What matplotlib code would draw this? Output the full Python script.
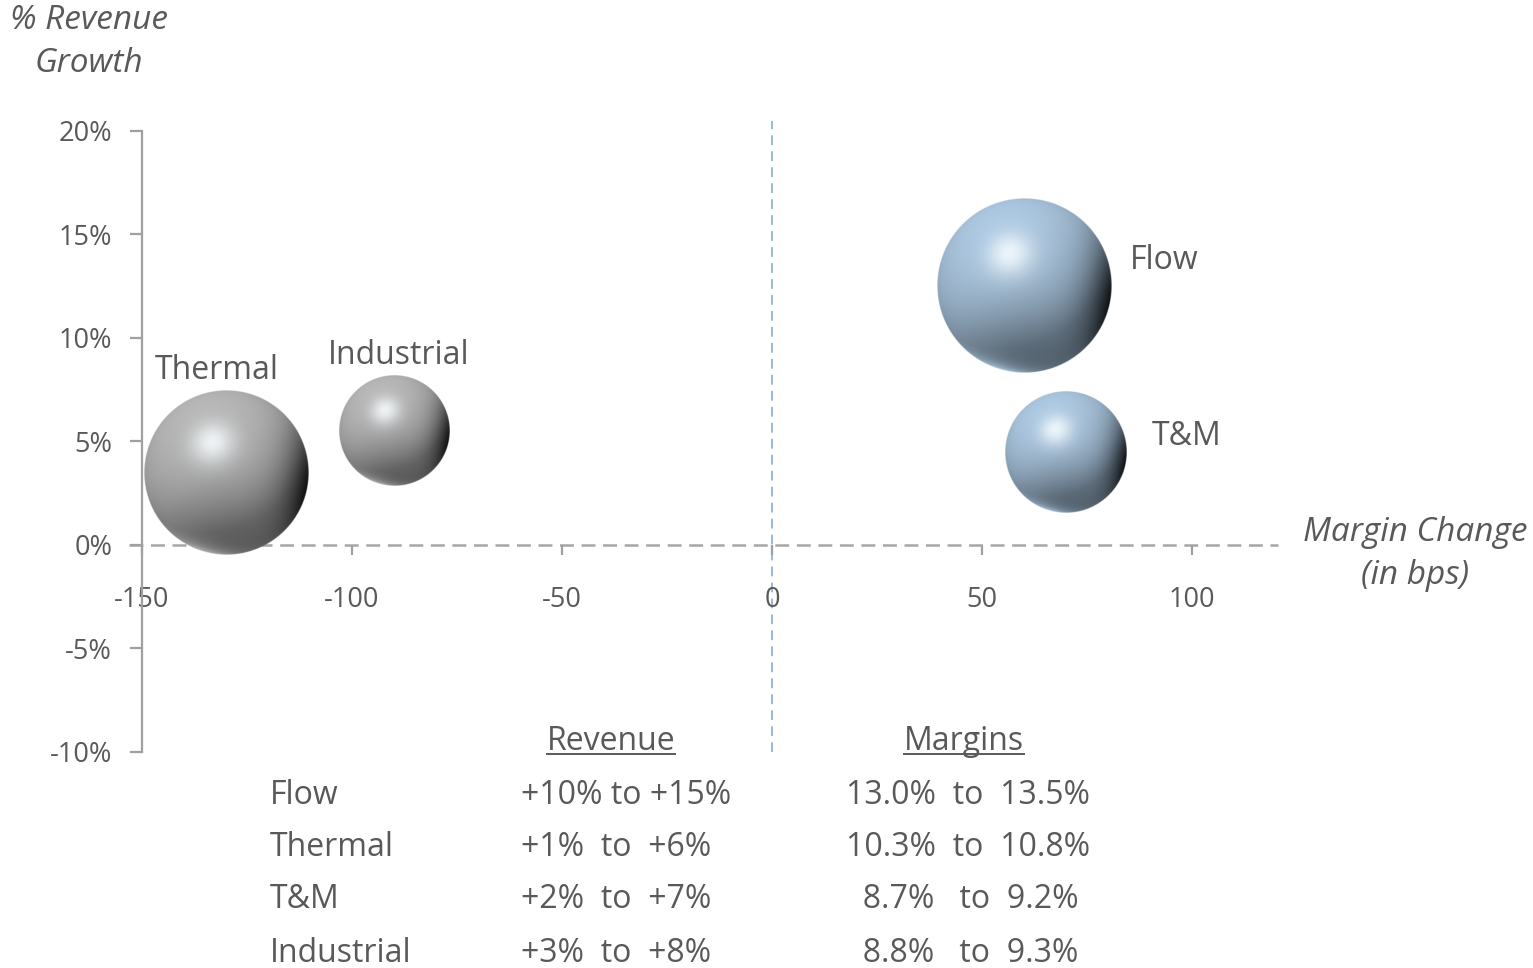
import numpy as np
import matplotlib
matplotlib.use("Agg")
import matplotlib.pyplot as plt
from matplotlib.lines import Line2D

plt.rcParams['font.family'] = ['Open Sans', 'DejaVu Sans']
plt.rcParams['lines.scale_dashes'] = False

# ---- data ----
segments = ["Flow", "Thermal", "T&M", "Industrial"]
margin_change_bps = [60, -130, 70, -90]
revenue_growth_pct = [12.5, 3.5, 4.5, 5.5]
bubble_size = [1.00, 0.89, 0.49, 0.40]
bubble_family = ["blue", "gray", "blue", "gray"]

x_ticks = [-150, -100, -50, 0, 50, 100]
y_ticks = [-10, -5, 0, 5, 10, 15, 20]
y_tick_labels = [f"{t}%" for t in y_ticks]

table_revenue = ["+10% to +15%", "+1%  to  +6%", "+2%  to  +7%", "+3%  to  +8%"]
table_margins = ["13.0%  to  13.5%", "10.3%  to  10.8%", "  8.7%   to  9.2%", "  8.8%   to  9.3%"]

# ---- style ----
W, H, DPI = 1533, 968, 100
TXT = "#595959"
AXC = "#a0a0a0"
BASES = {"gray": np.array([0.66, 0.66, 0.66]),
         "blue": np.array([0.62, 0.72, 0.81])}
MAX_RADIUS_PX = 87
label_offsets_px = {"Flow": (106, 26, "left"), "Thermal": (-9, 102, "center"),
                    "T&M": (86, 15, "left"), "Industrial": (5, 76, "center")}


def px(x, y):
    return x / W, 1 - y / H


def sphere_rgba(base, n=400):
    lin = np.linspace(-1, 1, n)
    u, v = np.meshgrid(lin, -lin)
    r = np.sqrt(u ** 2 + v ** 2)
    z = np.sqrt(np.clip(1 - r ** 2, 0, 1))

    def unit(a):
        a = np.asarray(a, float)
        return a / np.linalg.norm(a)

    def dot(d):
        return u * d[0] + v * d[1] + z * d[2]

    L = unit([-0.31, 0.67, 0.66])
    Hh = unit(L + np.array([0, 0, 1.0]))
    S = unit([0.97, -0.2, 0.1])
    B = unit([0.1, -0.9, 0.45])
    R = unit([-0.25, -0.97, 0.0])
    diff = np.clip(dot(L), 0, 1)
    spec = np.clip(dot(Hh), 0, 1) ** 28
    shadow = np.clip(dot(S), 0, 1) ** 4.5
    lower = np.clip(dot(B), 0, 1) ** 3
    rim = np.clip(dot(R), 0, 1) ** 14

    col = base[None, None, :] * (0.78 + 0.32 * diff)[..., None]
    col *= (1 - 0.3 * lower)[..., None]
    col *= (1 - 0.86 * shadow)[..., None]
    col += rim[..., None] * 0.45 * base[None, None, :]
    sp = (0.85 * spec)[..., None]
    col = col * (1 - sp) + sp * np.array([0.97, 0.99, 1.0])
    col = np.clip(col, 0, 1)
    alpha = np.clip((1 - r) * n / 2, 0, 1)
    return np.dstack([col, alpha])


fig = plt.figure(figsize=(W / DPI, H / DPI), dpi=DPI)
ax = fig.add_axes([142 / W, (H - 752) / H, (1278 - 142) / W, (752 - 120.6) / H])
ax.set_xlim(-150, 120.5)
ax.set_ylim(-10, 20.5)

for s in ["top", "right", "bottom"]:
    ax.spines[s].set_visible(False)
ax.spines["left"].set_color(AXC)
ax.spines["left"].set_linewidth(1.6)
ax.spines["left"].set_bounds(-10, 20)
ax.spines["bottom"].set_position(("data", 0))

ax.set_xticks(x_ticks)
ax.set_xticklabels([str(t) for t in x_ticks])
ax.set_yticks(y_ticks)
ax.set_yticklabels(y_tick_labels)
ax.tick_params(axis="y", direction="out", length=8.5, width=1.6, color=AXC,
               labelcolor=TXT, labelsize=19.5, pad=13)
ax.tick_params(axis="x", direction="out", length=7, width=1.6, color=AXC,
               labelcolor=TXT, labelsize=19.5, pad=22.5)

# zero lines
ax.plot([-153, 120.5], [0, 0], color="#a6a6a6", lw=1.8, dashes=(10, 5.5),
        clip_on=False, zorder=1)
ax.plot([0, 0], [-10, 20.5], color="#9dbad6", lw=1.5, dashes=(7, 4.5),
        clip_on=False, zorder=1)

# bubbles
x0d, y0d = ax.transData.transform((0, 0))
x1d, y1d = ax.transData.transform((1, 1))
ppx, ppy = x1d - x0d, y1d - y0d
smax = max(bubble_size)
for name, xv, yv, sz, fam in zip(segments, margin_change_bps, revenue_growth_pct,
                                 bubble_size, bubble_family):
    r_px = MAX_RADIUS_PX * np.sqrt(sz / smax)
    base = BASES[fam]
    d_pt = 2 * r_px * 72 / DPI * 0.97
    ax.scatter([xv], [yv], s=d_pt ** 2, color=base * 0.9, edgecolors="none", zorder=2)
    dx, dy = r_px / ppx, r_px / ppy
    ax.imshow(sphere_rgba(base), extent=[xv - dx, xv + dx, yv - dy, yv + dy],
              aspect="auto", interpolation="bilinear", origin="upper", zorder=3)
    ox, oy, ha = label_offsets_px[name]
    ax.annotate(name, (xv, yv), xytext=(ox * 0.72, oy * 0.72), textcoords="offset points",
                ha=ha, va="center", fontsize=23, color=TXT, zorder=4)

ax.set_xlim(-150, 120.5)
ax.set_ylim(-10, 20.5)

# axis titles
fig.text(*px(89, 42), "% Revenue\nGrowth", ha="center", va="center", fontsize=24,
         style="italic", color=TXT, linespacing=1.38)
fig.text(*px(1415, 554), "Margin Change\n(in bps)", ha="center", va="center", fontsize=24,
         style="italic", color=TXT, linespacing=1.38)

# table
hdr_rev = fig.text(*px(611, 741), "Revenue", ha="center", va="center", fontsize=23, color=TXT)
hdr_mar = fig.text(*px(964, 741), "Margins", ha="center", va="center", fontsize=23, color=TXT)
row_y = [795, 848, 900, 953]
for name, rev, mar, yy in zip(segments, table_revenue, table_margins, row_y):
    fig.text(*px(270, yy), name, ha="left", va="center", fontsize=23, color=TXT)
    fig.text(*px(521, yy), rev, ha="left", va="center", fontsize=23, color=TXT)
    fig.text(*px(846, yy), mar, ha="left", va="center", fontsize=23, color=TXT)

fig.canvas.draw()
for t in (hdr_rev, hdr_mar):
    bb = t.get_window_extent()
    yline = (H - 754) / H
    fig.add_artist(Line2D([bb.x0 / W, bb.x1 / W], [yline, yline], transform=fig.transFigure,
                          color=TXT, lw=1.4))

fig.savefig("out.png", dpi=DPI)
